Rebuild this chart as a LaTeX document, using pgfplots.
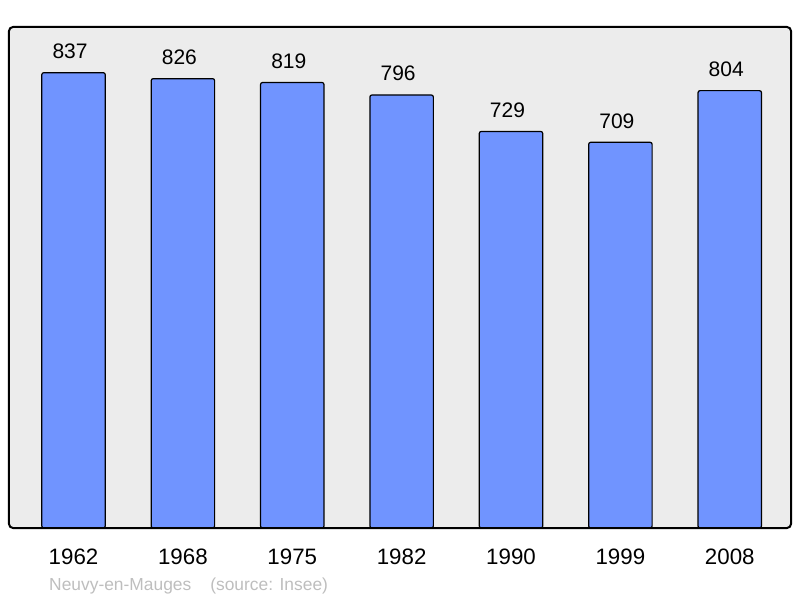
\documentclass[border=0pt]{standalone}
\usepackage{pgfplots}
\pgfplotsset{compat=1.18}
\usepackage{fontspec}
\setmainfont{Liberation Sans}
\definecolor{barblue}{RGB}{112,148,255}
\definecolor{bggray}{RGB}{236,236,236}
\definecolor{srcgray}{RGB}{190,190,190}
\begin{document}
\begin{tikzpicture}[x=1pt,y=1pt]
\useasboundingbox (0,0) rectangle (800,598);
\begin{axis}[
  at={(9pt,70pt)}, anchor=south west,
  scale only axis, width=782pt, height=501pt,
  xmin=-0.59, xmax=6.56, ymin=0, ymax=921,
  ybar, bar width=0.58,
  bar shift=0pt,
  axis line style={draw=none},
  axis background/.style={fill=bggray},
  ytick=\empty,
  xtick={0,1,2,3,4,5,6},
  xticklabels={1962,1968,1975,1982,1990,1999,2008},
  major tick length=0pt,
  xticklabel style={font=\fontsize{22.3}{26}\selectfont, anchor=north, inner sep=0pt, yshift=-20.5pt},
  nodes near coords,
  /pgf/number format/assume math mode=true,
  every node near coord/.append style={font=\fontsize{21}{25}\selectfont, anchor=south, inner sep=0pt, yshift=13.5pt, xshift=-3.5pt, black},
  clip=false,
]
\addplot[fill=barblue, draw=black, line width=1.2pt, rounded corners=2pt] coordinates {
 (0,837) (1,826) (2,819) (3,796) (4,729) (5,709) (6,804)};
\draw[black, line width=2pt, rounded corners=4pt] (rel axis cs:0,0) rectangle (rel axis cs:1,1);
\end{axis}
\node[anchor=base west, inner sep=0pt, text=srcgray, font=\fontsize{17.4}{20}\selectfont] at (49,8) {Neuvy-en-Mauges\hspace{19pt}(source: Insee)};
\end{tikzpicture}
\end{document}
